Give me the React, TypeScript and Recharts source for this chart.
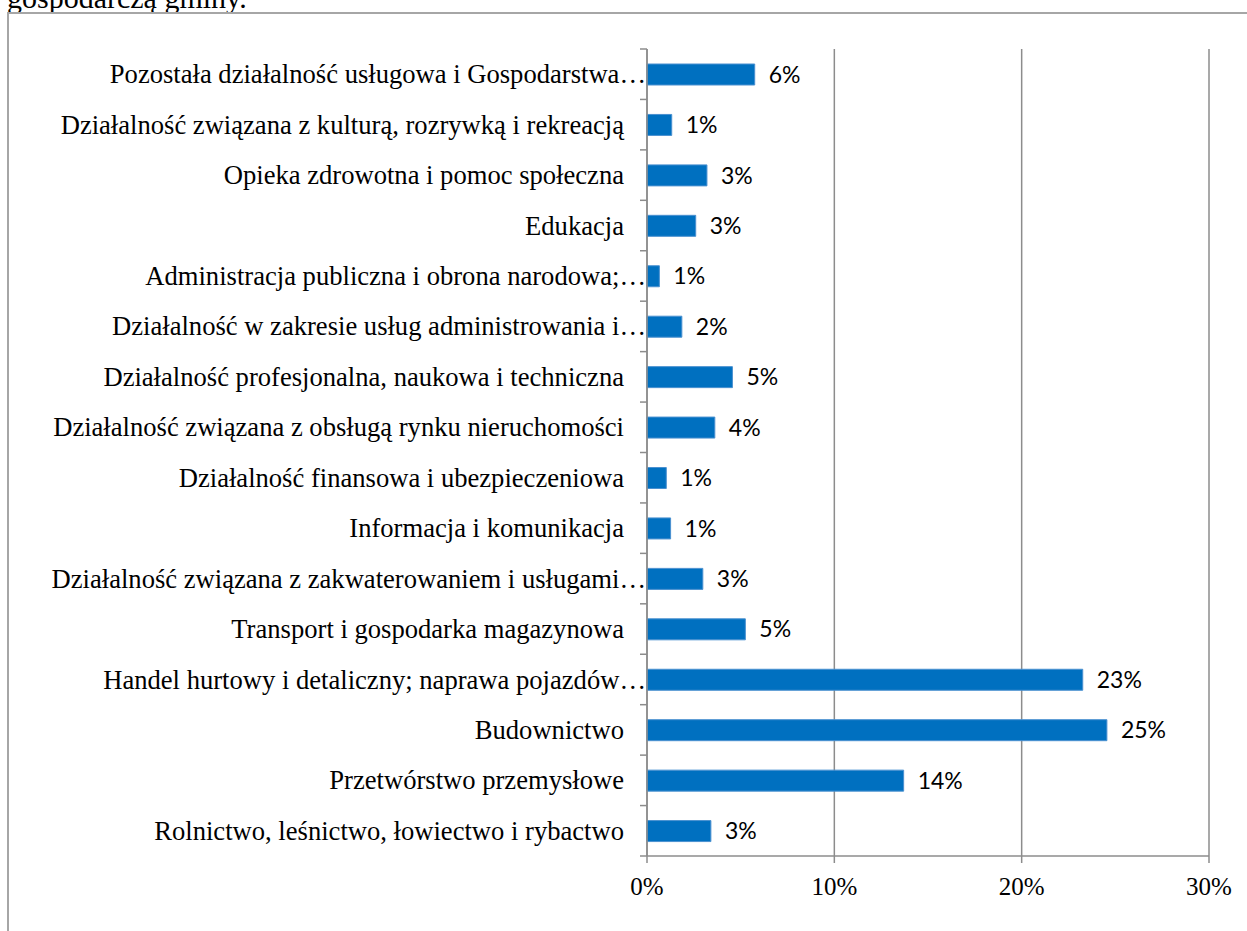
import { BarChart, Bar, XAxis, YAxis, CartesianGrid, LabelList } from 'recharts';

// categories listed top to bottom, as they appear in the chart
const categories = [
  'Pozostała działalność usługowa i Gospodarstwa…',
  'Działalność związana z kulturą, rozrywką i rekreacją',
  'Opieka zdrowotna i pomoc społeczna',
  'Edukacja',
  'Administracja publiczna i obrona narodowa;…',
  'Działalność w zakresie usług administrowania i…',
  'Działalność profesjonalna, naukowa i techniczna',
  'Działalność związana z obsługą rynku nieruchomości',
  'Działalność finansowa i ubezpieczeniowa',
  'Informacja i komunikacja',
  'Działalność związana z zakwaterowaniem i usługami…',
  'Transport i gospodarka magazynowa',
  'Handel hurtowy i detaliczny; naprawa pojazdów…',
  'Budownictwo',
  'Przetwórstwo przemysłowe',
  'Rolnictwo, leśnictwo, łowiectwo i rybactwo',
];

// share of entities, percent
const shares = [5.75, 1.32, 3.2, 2.6, 0.66, 1.86, 4.56, 3.62, 1.03, 1.26, 2.98, 5.25, 23.26, 24.55, 13.7, 3.41];

const xTicks = [0, 10, 20, 30];

const data = categories.map((name, i) => ({ name, value: shares[i] }));

const W = 1247;
const H = 931;
const MARGIN = { top: 49, right: 38, bottom: 35, left: 7 };
const YAXIS_W = 640;
const XAXIS_H = 40;
const PLOT_LEFT = MARGIN.left + YAXIS_W;
const BAND = (H - MARGIN.top - MARGIN.bottom - XAXIS_H) / categories.length;

const AXIS = '#8c8c8c';
const SERIF = '"Liberation Serif", "Times New Roman", serif';

function CategoryTick(props: any) {
  const { y, payload } = props;
  const value: string = payload.value;
  const isLast = value === categories[categories.length - 1];
  const truncated = value.endsWith('…');
  return (
    <g>
      <line x1={PLOT_LEFT - 7} x2={PLOT_LEFT} y1={y - BAND / 2} y2={y - BAND / 2} stroke={AXIS} strokeWidth={1.5} />
      {isLast && (
        <line x1={PLOT_LEFT - 7} x2={PLOT_LEFT} y1={y + BAND / 2} y2={y + BAND / 2} stroke={AXIS} strokeWidth={1.5} />
      )}
      <text
        x={truncated ? PLOT_LEFT - 1 : PLOT_LEFT - 23}
        y={y}
        dy="0.34em"
        textAnchor="end"
        fontFamily={SERIF}
        fontSize={26.6}
        fill="#000"
      >
        {value}
      </text>
    </g>
  );
}

export default function App() {
  return (
    <div style={{ position: 'absolute', left: 0, top: 0, width: W, height: H, overflow: 'hidden', background: '#fff' }}>
      <div
        style={{
          position: 'absolute',
          left: 7,
          top: -17,
          fontFamily: SERIF,
          fontSize: 30,
          lineHeight: '30px',
          whiteSpace: 'nowrap',
          color: '#000',
        }}
      >
        gospodarczą gminy.
      </div>
      <div
        style={{
          position: 'absolute',
          left: 7,
          top: 12,
          width: 1400,
          height: 1100,
          border: '2px solid #a6a6a6',
        }}
      />
      <div style={{ position: 'absolute', left: 0, top: 0 }}>
        <BarChart width={W} height={H} data={data} layout="vertical" margin={MARGIN} barSize={21}>
          <CartesianGrid horizontal={false} stroke={AXIS} strokeWidth={1.5} />
          <XAxis
            type="number"
            domain={[0, 30]}
            ticks={xTicks}
            tickFormatter={(v: number) => `${v}%`}
            height={XAXIS_H}
            axisLine={{ stroke: AXIS, strokeWidth: 1.5 }}
            tickLine={{ stroke: AXIS, strokeWidth: 1.5 }}
            tickSize={7}
            tickMargin={14}
            tick={{ fontFamily: SERIF, fontSize: 25, fill: '#000' }}
            interval={0}
          />
          <YAxis
            type="category"
            dataKey="name"
            width={YAXIS_W}
            axisLine={{ stroke: AXIS, strokeWidth: 1.5 }}
            tickLine={false}
            tick={<CategoryTick />}
            interval={0}
          />
          <Bar dataKey="value" fill="#0070c0" stroke="#4a90d0" strokeWidth={1} isAnimationActive={false}>
            <LabelList
              dataKey="value"
              position="right"
              offset={14}
              formatter={(v: any) => `${Math.round(Number(v))}%`}
              style={{ fontFamily: 'Lato, "Open Sans", sans-serif', fontSize: 23, fill: '#000' }}
            />
          </Bar>
        </BarChart>
      </div>
    </div>
  );
}
